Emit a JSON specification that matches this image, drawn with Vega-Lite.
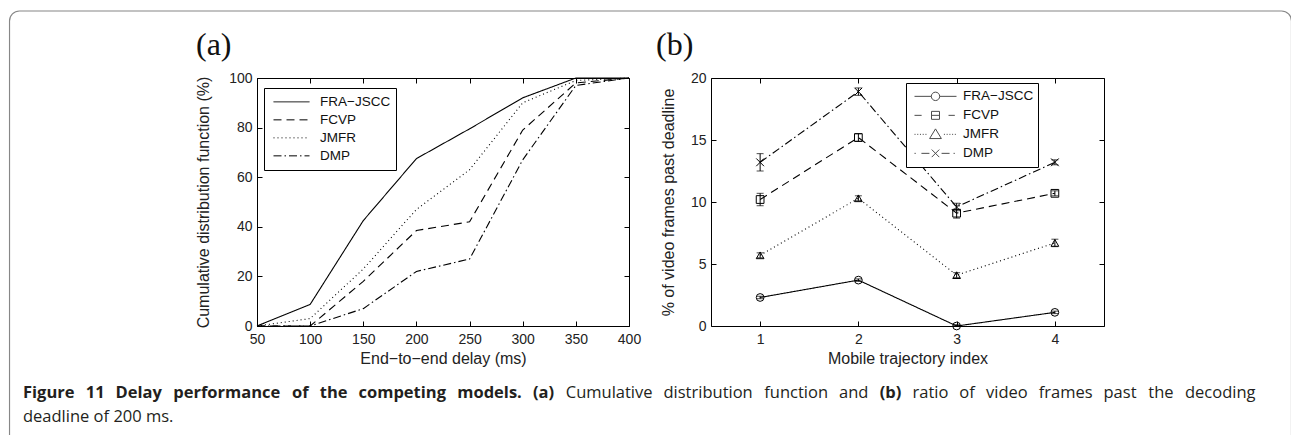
{
  "$schema": "https://vega.github.io/schema/vega-lite/v6.json",
  "padding": {"left": 8, "top": 10, "right": 0, "bottom": 0},
  "background": "white",
  "config": {
    "view": {"stroke": null},
    "axis": {
      "grid": false, "domain": false, "tickColor": "#000", "tickSize": -5, "tickWidth": 1,
      "labelFlush": false, "labelOverlap": false,
      "labelFont": "Liberation Sans", "labelFontSize": 14, "labelColor": "#222",
      "titleFont": "Liberation Sans", "titleFontSize": 16, "titleFontWeight": "normal", "titleColor": "#222"
    },
    "axisX": {"labelPadding": 11, "titlePadding": 4},
    "axisY": {"labelPadding": 10}
  },
  "bounds": "flush",
  "spacing": 336,
  "resolve": {"legend": {"strokeDash": "independent", "shape": "independent"}},
  "vconcat": [
    {
      "bounds": "flush",
      "spacing": 82,
      "resolve": {"legend": {"strokeDash": "independent", "shape": "independent"}},
      "hconcat": [
        {
          "width": 166, "height": 10,
          "data": {"values": []},
          "mark": {"type": "point", "filled": false, "color": "#555", "strokeWidth": 1.2},
          "encoding": {
            "shape": {"field": "frame", "type": "nominal",
              "scale": {"domain": [" "], "range": ["M-0.9844,-0.3432H0.9844A0.0156,0.0156,0,0,1,1,-0.3276V0.3276A0.0156,0.0156,0,0,1,0.9844,0.3432H-0.9844A0.0156,0.0156,0,0,1,-1,0.3276V-0.3276A0.0156,0.0156,0,0,1,-0.9844,-0.3432Z"]},
              "legend": {"orient": "none", "legendX": -0.5, "legendY": -68, "title": null, "symbolSize": 1643524,
                         "symbolStrokeWidth": 1.2, "symbolStrokeColor": "#555", "symbolFillColor": "transparent", "symbolOffset": 0,
                         "clipHeight": 442, "padding": 0, "labelFontSize": 1, "labelOffset": 0, "strokeColor": null, "fillColor": null}}
          }
        },
        {
          "width": 372, "height": 248,
          "view": {"stroke": "#000", "strokeWidth": 1},
          "title": {"text": "(a)", "font": "Liberation Serif", "fontSize": 32, "fontWeight": "normal", "color": "#111", "anchor": "start", "frame": "group", "dx": -61, "offset": -16, "baseline": "alphabetic"},
          "data": {"values": [
            {"model": "FRA−JSCC", "delay": 50, "cdf": 0},
            {"model": "FRA−JSCC", "delay": 100, "cdf": 8.7},
            {"model": "FRA−JSCC", "delay": 150, "cdf": 42.5},
            {"model": "FRA−JSCC", "delay": 200, "cdf": 67.5},
            {"model": "FRA−JSCC", "delay": 250, "cdf": 79.5},
            {"model": "FRA−JSCC", "delay": 300, "cdf": 92},
            {"model": "FRA−JSCC", "delay": 350, "cdf": 100},
            {"model": "FRA−JSCC", "delay": 400, "cdf": 100},
            {"model": "FCVP", "delay": 50, "cdf": 0},
            {"model": "FCVP", "delay": 100, "cdf": 0},
            {"model": "FCVP", "delay": 150, "cdf": 18},
            {"model": "FCVP", "delay": 200, "cdf": 38.5},
            {"model": "FCVP", "delay": 250, "cdf": 42},
            {"model": "FCVP", "delay": 300, "cdf": 79},
            {"model": "FCVP", "delay": 350, "cdf": 98},
            {"model": "FCVP", "delay": 400, "cdf": 100},
            {"model": "JMFR", "delay": 50, "cdf": 0},
            {"model": "JMFR", "delay": 100, "cdf": 3},
            {"model": "JMFR", "delay": 150, "cdf": 23},
            {"model": "JMFR", "delay": 200, "cdf": 47},
            {"model": "JMFR", "delay": 250, "cdf": 63},
            {"model": "JMFR", "delay": 300, "cdf": 90},
            {"model": "JMFR", "delay": 350, "cdf": 99},
            {"model": "JMFR", "delay": 400, "cdf": 100},
            {"model": "DMP", "delay": 50, "cdf": 0},
            {"model": "DMP", "delay": 100, "cdf": 0},
            {"model": "DMP", "delay": 150, "cdf": 7},
            {"model": "DMP", "delay": 200, "cdf": 22},
            {"model": "DMP", "delay": 250, "cdf": 27},
            {"model": "DMP", "delay": 300, "cdf": 67},
            {"model": "DMP", "delay": 350, "cdf": 97},
            {"model": "DMP", "delay": 400, "cdf": 100}
          ]},
          "layer": [
            {
              "mark": {"type": "line", "color": "#000", "strokeWidth": 1.1},
              "encoding": {
                "x": {"field": "delay", "type": "quantitative", "scale": {"domain": [50, 400], "nice": false, "zero": false},
                      "axis": {"orient": "bottom", "values": [50, 100, 150, 200, 250, 300, 350, 400], "title": "End−to−end delay (ms)"}},
                "y": {"field": "cdf", "type": "quantitative", "scale": {"domain": [0, 100], "nice": false},
                      "axis": {"orient": "left", "values": [0, 20, 40, 60, 80, 100], "title": "Cumulative distribution function (%)", "titlePadding": 17}},
                "strokeDash": {"field": "model", "type": "nominal",
                  "scale": {"domain": ["FRA−JSCC", "FCVP", "JMFR", "DMP"], "range": [[1, 0], [8, 5], [1, 3], [8, 3, 1.5, 3]]},
                  "legend": {"orient": "none", "legendX": 7, "legendY": 10, "title": null, "symbolType": "stroke", "symbolSize": 1296,
                             "symbolStrokeWidth": 1, "symbolStrokeColor": "#000", "clipHeight": 17.7, "padding": 5, "symbolOffset": 4,
                             "labelOffset": 10, "rowPadding": 0, "strokeColor": "#000", "fillColor": "#fff",
                             "labelFont": "Liberation Sans", "labelFontSize": 13.5, "labelColor": "#111"}}
              }
            },
            {
              "mark": {"type": "point", "opacity": 0},
              "encoding": {
                "x": {"field": "delay", "type": "quantitative", "axis": {"orient": "top", "labels": false, "title": null, "minExtent": 0, "values": [50, 100, 150, 200, 250, 300, 350, 400]}},
                "y": {"field": "cdf", "type": "quantitative", "axis": {"orient": "right", "labels": false, "title": null, "minExtent": 0, "values": [0, 20, 40, 60, 80, 100]}}
              }
            }
          ],
          "resolve": {"axis": {"x": "independent", "y": "independent"}}
        },
        {
          "width": 393, "height": 248,
          "view": {"stroke": "#000", "strokeWidth": 1},
          "title": {"text": "(b)", "font": "Liberation Serif", "fontSize": 32, "fontWeight": "normal", "color": "#111", "anchor": "start", "frame": "group", "dx": -55, "offset": -16, "baseline": "alphabetic"},
          "data": {"values": [
            {"model": "FRA−JSCC", "idx": 1, "pct": 2.3, "lo": 2.2, "hi": 2.4},
            {"model": "FRA−JSCC", "idx": 2, "pct": 3.7, "lo": 3.6, "hi": 3.8},
            {"model": "FRA−JSCC", "idx": 3, "pct": 0.0, "lo": 0.0, "hi": 0.1},
            {"model": "FRA−JSCC", "idx": 4, "pct": 1.1, "lo": 1.0, "hi": 1.2},
            {"model": "FCVP", "idx": 1, "pct": 10.2, "lo": 9.7, "hi": 10.7},
            {"model": "FCVP", "idx": 2, "pct": 15.2, "lo": 14.9, "hi": 15.5},
            {"model": "FCVP", "idx": 3, "pct": 9.1, "lo": 8.7, "hi": 9.4},
            {"model": "FCVP", "idx": 4, "pct": 10.7, "lo": 10.5, "hi": 10.9},
            {"model": "JMFR", "idx": 1, "pct": 5.7, "lo": 5.5, "hi": 5.9},
            {"model": "JMFR", "idx": 2, "pct": 10.3, "lo": 10.1, "hi": 10.5},
            {"model": "JMFR", "idx": 3, "pct": 4.1, "lo": 3.9, "hi": 4.3},
            {"model": "JMFR", "idx": 4, "pct": 6.7, "lo": 6.4, "hi": 7.0},
            {"model": "DMP", "idx": 1, "pct": 13.2, "lo": 12.5, "hi": 13.9},
            {"model": "DMP", "idx": 2, "pct": 18.9, "lo": 18.6, "hi": 19.2},
            {"model": "DMP", "idx": 3, "pct": 9.6, "lo": 9.3, "hi": 9.9},
            {"model": "DMP", "idx": 4, "pct": 13.2, "lo": 13.0, "hi": 13.4}
          ]},
          "layer": [
            {
              "mark": {"type": "line", "color": "#000", "strokeWidth": 1.1},
              "encoding": {
                "x": {"field": "idx", "type": "quantitative", "scale": {"domain": [0.5, 4.5], "nice": false, "zero": false},
                      "axis": {"orient": "bottom", "values": [1, 2, 3, 4], "title": "Mobile trajectory index"}},
                "y": {"field": "pct", "type": "quantitative", "scale": {"domain": [0, 20], "nice": false},
                      "axis": {"orient": "left", "values": [0, 5, 10, 15, 20], "title": "% of video frames past deadline", "titlePadding": 14}},
                "strokeDash": {"field": "model", "type": "nominal",
                  "scale": {"domain": ["FRA−JSCC", "FCVP", "JMFR", "DMP"], "range": [[1, 0], [7, 5], [1, 3], [7, 3, 1.5, 3]]},
                  "legend": null}
              }
            },
            {
              "mark": {"type": "rule", "color": "#000", "strokeWidth": 1},
              "encoding": {
                "x": {"field": "idx", "type": "quantitative", "axis": null},
                "y": {"field": "lo", "type": "quantitative", "axis": null},
                "y2": {"field": "hi"}
              }
            },
            {
              "mark": {"type": "tick", "orient": "horizontal", "color": "#000", "size": 7, "thickness": 1},
              "encoding": {
                "x": {"field": "idx", "type": "quantitative", "axis": null},
                "y": {"field": "lo", "type": "quantitative", "axis": null}
              }
            },
            {
              "mark": {"type": "tick", "orient": "horizontal", "color": "#000", "size": 7, "thickness": 1},
              "encoding": {
                "x": {"field": "idx", "type": "quantitative", "axis": null},
                "y": {"field": "hi", "type": "quantitative", "axis": null}
              }
            },
            {
              "mark": {"type": "point", "filled": false, "color": "#000", "strokeWidth": 1, "size": 60, "opacity": 1},
              "encoding": {
                "x": {"field": "idx", "type": "quantitative", "axis": null},
                "y": {"field": "pct", "type": "quantitative", "axis": null},
                "shape": {"field": "model", "type": "nominal",
                  "scale": {"domain": ["FRA−JSCC", "FCVP", "JMFR", "DMP"], "range": ["circle", "square", "triangle-up", "M-1,-1L1,1M-1,1L1,-1"]},
                  "legend": null}
              }
            },
            {
              "mark": {"type": "point", "opacity": 0},
              "encoding": {
                "x": {"field": "idx", "type": "quantitative", "axis": {"orient": "top", "labels": false, "title": null, "minExtent": 0, "values": [1, 2, 3, 4]}},
                "y": {"field": "pct", "type": "quantitative", "axis": {"orient": "right", "labels": false, "title": null, "minExtent": 0, "values": [0, 5, 10, 15, 20]}}
              }
            },
            {
              "data": {"values": []},
              "mark": {"type": "point", "filled": false, "color": "#000", "strokeWidth": 1},
              "encoding": {
                "shape": {"field": "model", "type": "nominal",
                  "scale": {"domain": ["FRA−JSCC", "FCVP", "JMFR", "DMP"],
                    "range": [
                      "M-1,0H-0.2M0.2,0H1M0.2,0A0.2,0.2,0,1,1,-0.2,0A0.2,0.2,0,1,1,0.2,0",
                      "M-1,0H-0.66M0.62,0H0.92M-0.19,-0.19H0.19V0.19H-0.19ZM-0.19,0H0.19",
                      "M-1,0h0.05M-0.87,0h0.05M-0.74,0h0.05M-0.61,0h0.05M-0.48,0h0.05M0.4,0h0.05M0.53,0h0.05M0.66,0h0.05M0.79,0h0.05M0.92,0h0.05M0,-0.26L0.28,0.2L-0.28,0.2Z",
                      "M-1,0h0.06M-0.67,0H-0.29M0.29,0H0.67M0.86,0h0.06M-0.18,-0.18L0.18,0.18M-0.18,0.18L0.18,-0.18"
                    ]},
                  "legend": {"orient": "none", "legendX": 195, "legendY": 5, "title": null, "symbolSize": 1764,
                             "symbolStrokeWidth": 1, "symbolStrokeColor": "#000", "symbolFillColor": "transparent", "clipHeight": 18.7,
                             "padding": 4, "symbolOffset": 4, "labelOffset": 6, "rowPadding": 0, "strokeColor": "#000", "fillColor": "#fff",
                             "labelFont": "Liberation Sans", "labelFontSize": 13.5, "labelColor": "#111"}}
              }
            }
          ],
          "resolve": {"scale": {"shape": "independent"}, "legend": {"shape": "independent"}, "axis": {"x": "independent", "y": "independent"}}
        }
      ]
    },
    {
      "bounds": "flush",
      "spacing": 24.5,
      "vconcat": [
        {
          "spacing": 10.75,
          "hconcat": [
            {"width": 1, "height": 1, "data": {"values": []}, "mark": "point", "encoding": {}, "title": {"text": "Figure", "fontWeight": "bold", "dx": 14, "font": "Open Sans", "fontSize": 16.5, "color": "#231f20", "anchor": "start", "frame": "group", "offset": 0, "baseline": "alphabetic"}},
            {"width": 1, "height": 1, "data": {"values": []}, "mark": "point", "encoding": {}, "title": {"text": "11", "fontWeight": "bold", "font": "Open Sans", "fontSize": 16.5, "color": "#231f20", "anchor": "start", "frame": "group", "offset": 0, "baseline": "alphabetic"}},
            {"width": 1, "height": 1, "data": {"values": []}, "mark": "point", "encoding": {}, "title": {"text": "Delay", "fontWeight": "bold", "font": "Open Sans", "fontSize": 16.5, "color": "#231f20", "anchor": "start", "frame": "group", "offset": 0, "baseline": "alphabetic"}},
            {"width": 1, "height": 1, "data": {"values": []}, "mark": "point", "encoding": {}, "title": {"text": "performance", "fontWeight": "bold", "font": "Open Sans", "fontSize": 16.5, "color": "#231f20", "anchor": "start", "frame": "group", "offset": 0, "baseline": "alphabetic"}},
            {"width": 1, "height": 1, "data": {"values": []}, "mark": "point", "encoding": {}, "title": {"text": "of", "fontWeight": "bold", "font": "Open Sans", "fontSize": 16.5, "color": "#231f20", "anchor": "start", "frame": "group", "offset": 0, "baseline": "alphabetic"}},
            {"width": 1, "height": 1, "data": {"values": []}, "mark": "point", "encoding": {}, "title": {"text": "the", "fontWeight": "bold", "font": "Open Sans", "fontSize": 16.5, "color": "#231f20", "anchor": "start", "frame": "group", "offset": 0, "baseline": "alphabetic"}},
            {"width": 1, "height": 1, "data": {"values": []}, "mark": "point", "encoding": {}, "title": {"text": "competing", "fontWeight": "bold", "font": "Open Sans", "fontSize": 16.5, "color": "#231f20", "anchor": "start", "frame": "group", "offset": 0, "baseline": "alphabetic"}},
            {"width": 1, "height": 1, "data": {"values": []}, "mark": "point", "encoding": {}, "title": {"text": "models.", "fontWeight": "bold", "font": "Open Sans", "fontSize": 16.5, "color": "#231f20", "anchor": "start", "frame": "group", "offset": 0, "baseline": "alphabetic"}},
            {"width": 1, "height": 1, "data": {"values": []}, "mark": "point", "encoding": {}, "title": {"text": "(a)", "fontWeight": "bold", "font": "Open Sans", "fontSize": 16.5, "color": "#231f20", "anchor": "start", "frame": "group", "offset": 0, "baseline": "alphabetic"}},
            {"width": 1, "height": 1, "data": {"values": []}, "mark": "point", "encoding": {}, "title": {"text": "Cumulative", "fontWeight": "normal", "font": "Open Sans", "fontSize": 16.5, "color": "#231f20", "anchor": "start", "frame": "group", "offset": 0, "baseline": "alphabetic"}},
            {"width": 1, "height": 1, "data": {"values": []}, "mark": "point", "encoding": {}, "title": {"text": "distribution", "fontWeight": "normal", "font": "Open Sans", "fontSize": 16.5, "color": "#231f20", "anchor": "start", "frame": "group", "offset": 0, "baseline": "alphabetic"}},
            {"width": 1, "height": 1, "data": {"values": []}, "mark": "point", "encoding": {}, "title": {"text": "function", "fontWeight": "normal", "font": "Open Sans", "fontSize": 16.5, "color": "#231f20", "anchor": "start", "frame": "group", "offset": 0, "baseline": "alphabetic"}},
            {"width": 1, "height": 1, "data": {"values": []}, "mark": "point", "encoding": {}, "title": {"text": "and", "fontWeight": "normal", "font": "Open Sans", "fontSize": 16.5, "color": "#231f20", "anchor": "start", "frame": "group", "offset": 0, "baseline": "alphabetic"}},
            {"width": 1, "height": 1, "data": {"values": []}, "mark": "point", "encoding": {}, "title": {"text": "(b)", "fontWeight": "bold", "font": "Open Sans", "fontSize": 16.5, "color": "#231f20", "anchor": "start", "frame": "group", "offset": 0, "baseline": "alphabetic"}},
            {"width": 1, "height": 1, "data": {"values": []}, "mark": "point", "encoding": {}, "title": {"text": "ratio", "fontWeight": "normal", "font": "Open Sans", "fontSize": 16.5, "color": "#231f20", "anchor": "start", "frame": "group", "offset": 0, "baseline": "alphabetic"}},
            {"width": 1, "height": 1, "data": {"values": []}, "mark": "point", "encoding": {}, "title": {"text": "of", "fontWeight": "normal", "font": "Open Sans", "fontSize": 16.5, "color": "#231f20", "anchor": "start", "frame": "group", "offset": 0, "baseline": "alphabetic"}},
            {"width": 1, "height": 1, "data": {"values": []}, "mark": "point", "encoding": {}, "title": {"text": "video", "fontWeight": "normal", "font": "Open Sans", "fontSize": 16.5, "color": "#231f20", "anchor": "start", "frame": "group", "offset": 0, "baseline": "alphabetic"}},
            {"width": 1, "height": 1, "data": {"values": []}, "mark": "point", "encoding": {}, "title": {"text": "frames", "fontWeight": "normal", "font": "Open Sans", "fontSize": 16.5, "color": "#231f20", "anchor": "start", "frame": "group", "offset": 0, "baseline": "alphabetic"}},
            {"width": 1, "height": 1, "data": {"values": []}, "mark": "point", "encoding": {}, "title": {"text": "past", "fontWeight": "normal", "font": "Open Sans", "fontSize": 16.5, "color": "#231f20", "anchor": "start", "frame": "group", "offset": 0, "baseline": "alphabetic"}},
            {"width": 1, "height": 1, "data": {"values": []}, "mark": "point", "encoding": {}, "title": {"text": "the", "fontWeight": "normal", "font": "Open Sans", "fontSize": 16.5, "color": "#231f20", "anchor": "start", "frame": "group", "offset": 0, "baseline": "alphabetic"}},
            {"width": 1, "height": 1, "data": {"values": []}, "mark": "point", "encoding": {}, "title": {"text": "decoding", "fontWeight": "normal", "font": "Open Sans", "fontSize": 16.5, "color": "#231f20", "anchor": "start", "frame": "group", "offset": 0, "baseline": "alphabetic"}}
          ]
        },
        {"width": 1, "height": 1, "data": {"values": []}, "mark": "point", "encoding": {},
         "title": {"text": "deadline of 200 ms.", "font": "Open Sans", "fontSize": 16.5, "fontWeight": "normal", "color": "#231f20", "anchor": "start", "frame": "group", "offset": 0, "baseline": "alphabetic", "dx": 14}}
      ]
    }
  ]
}
